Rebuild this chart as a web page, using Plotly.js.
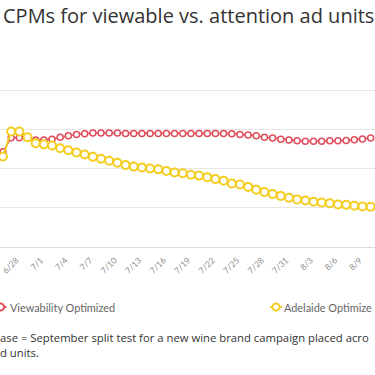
<!DOCTYPE html>
<html>
<head>
<meta charset="utf-8">
<script src="https://cdn.plot.ly/plotly-3.0.1.min.js"></script>
<style>html,body{margin:0;padding:0;background:#fff;}#chart{width:375px;height:375px;}</style>
</head>
<body>
<div id="chart"></div>
<script>
const dates = ['6/26','6/27','6/28','6/29','6/30','7/1','7/2','7/3','7/4','7/5','7/6','7/7','7/8','7/9','7/10','7/11','7/12','7/13','7/14','7/15','7/16','7/17','7/18','7/19','7/20','7/21','7/22','7/23','7/24','7/25','7/26','7/27','7/28','7/29','7/30','7/31','8/1','8/2','8/3','8/4','8/5','8/6','8/7','8/8','8/9','8/10'];
const viewability = [2.44,2.80,2.80,2.80,2.74,2.74,2.76,2.81,2.85,2.88,2.90,2.92,2.92,2.92,2.92,2.91,2.91,2.91,2.91,2.91,2.91,2.91,2.91,2.91,2.91,2.91,2.91,2.91,2.90,2.88,2.87,2.85,2.81,2.79,2.76,2.74,2.72,2.71,2.71,2.71,2.72,2.72,2.73,2.75,2.77,2.79];
const adelaide = [2.32,2.96,2.96,2.81,2.66,2.63,2.60,2.53,2.48,2.42,2.37,2.31,2.26,2.21,2.16,2.10,2.06,2.04,2.01,1.99,1.95,1.91,1.89,1.85,1.83,1.79,1.74,1.70,1.63,1.60,1.54,1.47,1.41,1.36,1.31,1.26,1.22,1.19,1.16,1.14,1.12,1.09,1.08,1.06,1.04,1.03];
// series names as visible in the (cropped) reference legend
const seriesNames = ['Viewability Optimized','Adelaide Optimize'];
const tickDates = dates.filter((d, i) => i % 3 === 2);
const footnote = ['ase = September split test for a new wine brand campaign placed acro', 'd units.'];

const RED = '#e14d5b';
const YEL = '#f3cd1f';
const W = 375, PT = 87, PB = 247, PH = PB - PT;
const py = p => (PB - p) / PH;

const traces = [
  {x: dates, y: viewability, name: seriesNames[0], type: 'scatter', mode: 'lines+markers',
   line: {color: RED, width: 1.5},
   marker: {symbol: 'circle', size: 6, color: '#fff', line: {color: RED, width: 1.5}},
   showlegend: false, cliponaxis: false},
  {x: dates, y: adelaide, name: seriesNames[1], type: 'scatter', mode: 'lines+markers',
   line: {color: YEL, width: 2},
   marker: {symbol: 'circle', size: 8, color: '#fff', line: {color: YEL, width: 2}},
   showlegend: false, cliponaxis: false}
];

function legendGlyph(cx, color) {
  return [
    {type: 'line', xref: 'paper', yref: 'paper', xsizemode: 'pixel', ysizemode: 'pixel',
     xanchor: cx / W, yanchor: py(307), x0: -6, x1: 6, y0: 0, y1: 0,
     line: {color: color, width: 2}},
    {type: 'circle', xref: 'paper', yref: 'paper', xsizemode: 'pixel', ysizemode: 'pixel',
     xanchor: cx / W, yanchor: py(307), x0: -3.5, x1: 3.5, y0: -3.5, y1: 3.5,
     fillcolor: '#fff', line: {color: color, width: 2}}
  ];
}

const layout = {
  width: 375, height: 375,
  margin: {l: 0, r: 0, t: PT, b: 375 - PB, pad: 0},
  paper_bgcolor: '#fff', plot_bgcolor: '#fff',
  showlegend: false,
  title: {text: 'CPMs for viewable vs. attention ad units', x: 3 / W, xanchor: 'left',
          xref: 'container', yref: 'container', y: 1 - 16 / 375, yanchor: 'middle',
          font: {family: 'Open Sans', size: 20, color: '#333'}},
  xaxis: {type: 'category', range: [-3 / 8.17, (375 - 3) / 8.17], tickvals: tickDates, ticktext: tickDates,
          tickangle: -45, tickfont: {family: 'Lato', size: 8.5, color: '#8c8c8c'},
          ticklabelshift: -3, ticklabelstandoff: 4,
          showgrid: false, showline: true, linecolor: '#dcdcdc', linewidth: 1, ticks: '', zeroline: false,
          fixedrange: true},
  yaxis: {range: [0, 4.1], dtick: 1, tick0: 0, showticklabels: false, showgrid: true, gridcolor: '#e6e6e6',
          gridwidth: 1, zeroline: false, showline: false, ticks: '', fixedrange: true},
  shapes: [].concat(legendGlyph(0.5, RED), legendGlyph(276, YEL)),
  annotations: [
    {text: seriesNames[0], xref: 'paper', yref: 'paper', x: 8 / W, y: py(307), xanchor: 'left', yanchor: 'middle',
     showarrow: false, font: {family: 'Lato', size: 10.9, color: '#666'}},
    {text: seriesNames[1], xref: 'paper', yref: 'paper', x: 282 / W, y: py(307), xanchor: 'left', yanchor: 'middle',
     showarrow: false, font: {family: 'Lato', size: 10.9, color: '#666'}},
    {text: footnote.join('<br>'),
     xref: 'paper', yref: 'paper', x: -2 / W, y: py(344.5), xanchor: 'left', yanchor: 'middle', align: 'left',
     showarrow: false, font: {family: 'Open Sans', size: 11.3, color: '#333'}}
  ]
};

Plotly.newPlot('chart', traces, layout, {displayModeBar: false, staticPlot: true});
</script>
</body>
</html>
